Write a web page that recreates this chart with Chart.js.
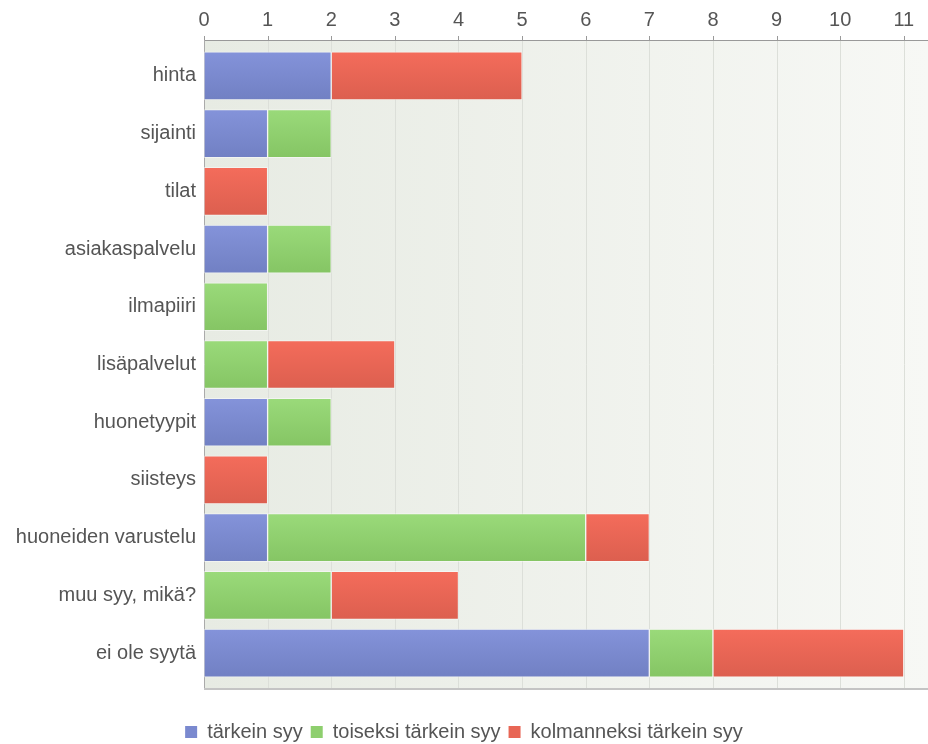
<!DOCTYPE html>
<html>
<head>
<meta charset="utf-8">
<script src="https://cdn.jsdelivr.net/npm/chart.js@4"></script>
<style>
  html, body { margin: 0; padding: 0; background: #fff; }
  #wrap { width: 928px; height: 744px; }
</style>
</head>
<body>
<div id="wrap"><canvas id="chart"></canvas></div>
<script>
const categories = [
  'hinta', 'sijainti', 'tilat', 'asiakaspalvelu', 'ilmapiiri', 'lisäpalvelut',
  'huonetyypit', 'siisteys', 'huoneiden varustelu', 'muu syy, mikä?', 'ei ole syytä'
];
const seriesNames = ['tärkein syy', 'toiseksi tärkein syy', 'kolmanneksi tärkein syy'];
const firstReason  = [2, 1, 0, 1, 0, 0, 1, 0, 1, 0, 7];
const secondReason = [0, 1, 0, 1, 1, 1, 1, 0, 5, 2, 1];
const thirdReason  = [3, 0, 1, 0, 0, 2, 0, 1, 1, 2, 3];
const xTicks = [0, 1, 2, 3, 4, 5, 6, 7, 8, 9, 10, 11];

const BAR = 48;
const PAD = 7;
const FONT = { family: '"Liberation Sans", Arial, sans-serif', size: 20 };
const TEXT = '#555';
const swatches = ['#7a89cf', '#8ecf6e', '#e86655'];

function barFill(top, bottom, solid) {
  return ctx => {
    const chart = ctx.chart;
    const y = chart.scales.y;
    if (!y || ctx.dataIndex === undefined) return solid;
    const c = y.getPixelForValue(ctx.dataIndex);
    const g = chart.ctx.createLinearGradient(0, c - BAR / 2, 0, c + BAR / 2);
    g.addColorStop(0, top);
    g.addColorStop(1, bottom);
    return g;
  };
}

// plot background, grid and axis lines drawn under the bars
const plotFrame = {
  id: 'plotFrame',
  beforeDatasetsDraw(chart) {
    const { ctx, chartArea: a, scales: { x } } = chart;
    const top = a.top - PAD, bottom = a.bottom + PAD;
    ctx.save();
    const bg = ctx.createLinearGradient(a.left, 0, a.right, 0);
    bg.addColorStop(0, '#e7ebe3');
    bg.addColorStop(1, '#f7f8f5');
    ctx.fillStyle = bg;
    ctx.fillRect(a.left, top, a.right - a.left, bottom - top);
    ctx.lineWidth = 1;
    xTicks.forEach(v => {
      const px = Math.round(x.getPixelForValue(v)) + 0.5;
      if (v > 0) {
        ctx.strokeStyle = '#dcdfd9';
        ctx.beginPath(); ctx.moveTo(px, top); ctx.lineTo(px, bottom); ctx.stroke();
      }
      ctx.strokeStyle = '#999';
      ctx.beginPath(); ctx.moveTo(px, top - 4); ctx.lineTo(px, top); ctx.stroke();
    });
    ctx.strokeStyle = '#999';
    ctx.beginPath(); ctx.moveTo(a.left, top + 0.5); ctx.lineTo(a.right, top + 0.5); ctx.stroke();
    ctx.strokeStyle = '#aaa';
    ctx.beginPath(); ctx.moveTo(a.left + 0.5, top); ctx.lineTo(a.left + 0.5, bottom); ctx.stroke();
    ctx.strokeStyle = '#c4c4c4';
    ctx.lineWidth = 2;
    ctx.beginPath(); ctx.moveTo(a.left, bottom); ctx.lineTo(a.right, bottom); ctx.stroke();
    ctx.restore();
  }
};

new Chart(document.getElementById('chart'), {
  type: 'bar',
  data: {
    labels: categories,
    datasets: [
      { label: seriesNames[0], data: firstReason, backgroundColor: barFill('#8493da', '#7180c3', swatches[0]) },
      { label: seriesNames[1], data: secondReason, backgroundColor: barFill('#9ada7a', '#85c564', swatches[1]) },
      { label: seriesNames[2], data: thirdReason, backgroundColor: barFill('#f46c5b', '#dc5f4f', swatches[2]) }
    ].map(ds => Object.assign(ds, {
      borderColor: 'rgba(255,255,255,0.45)',
      borderWidth: 1,
      borderSkipped: false,
      barThickness: BAR
    }))
  },
  options: {
    indexAxis: 'y',
    responsive: true,
    maintainAspectRatio: false,
    animation: false,
    layout: { padding: { top: 0, left: 0, right: 0, bottom: -8 } },
    scales: {
      x: {
        position: 'top',
        stacked: true,
        min: 0,
        max: 11.38,
        grid: { display: false },
        border: { display: false },
        afterFit: s => { s.height = 47; },
        afterBuildTicks: s => { s.ticks = xTicks.map(v => ({ value: v })); },
        ticks: { padding: 7, color: TEXT, font: FONT }
      },
      // empty spacer between the plot and the legend
      gap: {
        type: 'linear',
        position: 'bottom',
        axis: 'x',
        grid: { display: false },
        border: { display: false },
        ticks: { display: false },
        afterFit: s => { s.height = 32; }
      },
      y: {
        stacked: true,
        grid: { display: false },
        border: { display: false },
        afterFit: s => { s.width = 204; },
        ticks: { padding: 0, color: TEXT, font: FONT }
      }
    },
    plugins: {
      tooltip: { enabled: false },
      legend: {
        position: 'bottom',
        labels: {
          boxWidth: 12,
          boxHeight: 12,
          padding: 8,
          color: TEXT,
          font: FONT,
          generateLabels: chart => chart.data.datasets.map((ds, i) => ({
            text: ds.label,
            fillStyle: swatches[i],
            strokeStyle: 'rgba(0,0,0,0)',
            lineWidth: 0,
            datasetIndex: i,
            fontColor: TEXT
          }))
        }
      }
    }
  },
  plugins: [plotFrame]
});
</script>
</body>
</html>
